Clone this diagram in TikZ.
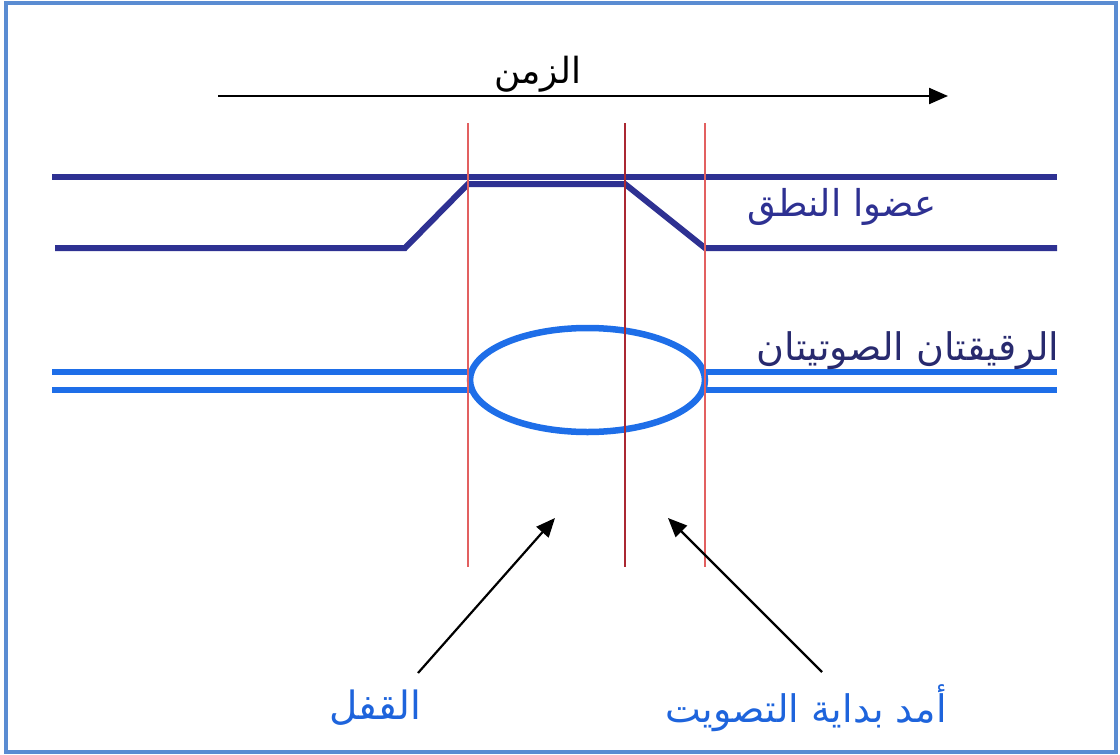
\documentclass[tikz,border=0pt]{standalone}
\usepackage{fontspec}
\newfontfamily\arabicfont[Script=Arabic]{DejaVu Sans}
\TeXXeTstate=1
\usetikzlibrary{arrows.meta}
\definecolor{navy}{RGB}{46,49,146}
\definecolor{navytext}{RGB}{40,42,110}
\definecolor{foldblue}{RGB}{30,110,232}
\definecolor{lblblue}{RGB}{30,100,220}
\definecolor{lightred}{RGB}{226,96,96}
\definecolor{darkred}{RGB}{170,40,50}
\definecolor{framecol}{RGB}{90,140,210}
\begin{document}
\begin{tikzpicture}[x=1pt,y=-1pt,
  frame/.style={draw=framecol,line width=3.5pt},
  artic/.style={draw=navy,line width=6pt,line join=miter},
  fold/.style={draw=foldblue,line width=6pt},
  redline/.style={draw=lightred,line width=1.5pt},
  pointer/.style={draw=black,line width=2.2pt,-{Triangle[length=19pt,width=16pt]}},
  lbl/.style={inner sep=0pt}
]
\useasboundingbox (0,0) rectangle (1120,755);
\draw[frame] (6,3) rectangle (1116,752);

% time arrow
\coordinate (t0) at (218,96);
\coordinate (t1) at (948,96);
\draw[pointer] (t0) -- (t1);
\node[lbl,text=black,font=\arabicfont\fontsize{36}{40}\selectfont] (zaman) at (538,74) {\beginR الزمن\endR};

% articulators
\coordinate (a0) at (52,177);
\coordinate (a1) at (1057,177);
\draw[artic] (a0) -- (a1);
\coordinate (b0) at (55,248);
\coordinate (b1) at (405,248);
\coordinate (b2) at (468,184);
\coordinate (b3) at (625,184);
\coordinate (b4) at (705,248);
\coordinate (b5) at (1057,248);
\draw[artic] (b0) -- (b1) -- (b2) -- (b3) -- (b4) -- (b5);
\node[lbl,text=navy,font=\arabicfont\fontsize{37}{42}\selectfont] (artlbl) at (842,207) {\beginR عضوا النطق\endR};

% vocal folds
\coordinate (f0) at (52,372);
\coordinate (f1) at (470,372);
\coordinate (f2) at (52,390);
\coordinate (f3) at (470,390);
\coordinate (f4) at (705,372);
\coordinate (f5) at (1057,372);
\coordinate (f6) at (705,390);
\coordinate (f7) at (1057,390);
\draw[fold] (f0) -- (f1);
\draw[fold] (f2) -- (f3);
\draw[fold] (f4) -- (f5);
\draw[fold] (f6) -- (f7);
\coordinate (ec) at (587.5,380);
\draw[fold,line width=6.5pt] (ec) ellipse [x radius=117.5, y radius=52];
\node[lbl,text=navytext,font=\arabicfont\fontsize{38}{42}\selectfont] (foldlbl) at (908,351) {\beginR الرقيقتان الصوتيتان\endR};

% red vertical lines
\coordinate (r1a) at (468,123); \coordinate (r1b) at (468,567);
\coordinate (r2a) at (625,123); \coordinate (r2b) at (625,567);
\coordinate (r3a) at (705,123); \coordinate (r3b) at (705,567);
\draw[redline] (r1a) -- (r1b);
\draw[redline,draw=darkred] (r2a) -- (r2b);
\draw[redline] (r3a) -- (r3b);

% bottom labels and pointers
\node[lbl,text=lblblue,font=\arabicfont\fontsize{39}{44}\selectfont] (qafl) at (375,708) {\beginR القفل\endR};
\node[lbl,text=lblblue,font=\arabicfont\fontsize{38}{44}\selectfont] (vot) at (806,708) {\beginR أمد بداية التصويت\endR};
\coordinate (p1tail) at (418,673);
\coordinate (p1tip) at (555,518);
\coordinate (p2tail) at (822,672);
\coordinate (p2tip) at (668,518);
\draw[pointer] (p1tail) -- (p1tip);
\draw[pointer] (p2tail) -- (p2tip);
\end{tikzpicture}
\end{document}
